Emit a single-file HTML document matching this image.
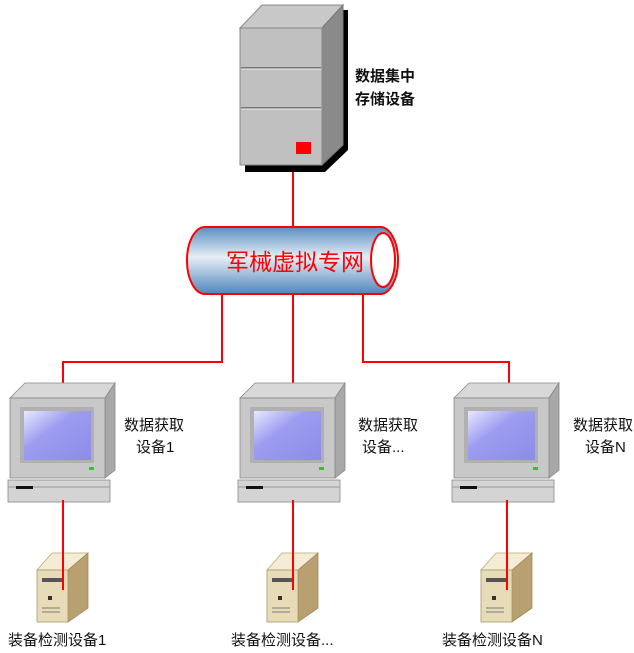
<!DOCTYPE html>
<html><head><meta charset="utf-8"><style>
html,body{margin:0;padding:0;background:#fff;}
svg{display:block;}
text{font-family:"Liberation Sans","Noto Sans CJK SC",sans-serif;}
</style></head><body>
<svg width="634" height="653" viewBox="0 0 634 653" xmlns="http://www.w3.org/2000/svg">
<defs>
<linearGradient id="pipe" x1="0" y1="0" x2="0" y2="1">
<stop offset="0" stop-color="#5a8fc0"/><stop offset="0.45" stop-color="#e6eef6"/><stop offset="1" stop-color="#4f86bb"/>
</linearGradient>
<linearGradient id="scr" x1="0" y1="0" x2="1" y2="1">
<stop offset="0" stop-color="#e8e8ff"/><stop offset="0.4" stop-color="#9c9cf0"/><stop offset="1" stop-color="#8c8ce8"/>
</linearGradient>
<g id="pc">
<polygon points="10,398 25,383 115,383 105,398" fill="#d8d8d8" stroke="#888" stroke-width="0.8"/>
<polygon points="105,398 115,383 115,470 105,478" fill="#a8a8a8" stroke="#888" stroke-width="0.8"/>
<rect x="10" y="398" width="95" height="80" fill="#c8c8c8" stroke="#888" stroke-width="0.8"/>
<rect x="20" y="407" width="74" height="56" fill="#b0b0b0"/>
<rect x="24" y="411" width="67" height="49" fill="url(#scr)"/>
<rect x="89" y="467" width="5" height="3" fill="#2c2"/>
<rect x="8" y="480" width="102" height="22" fill="#d4d4d4" stroke="#888" stroke-width="0.8"/>
<line x1="8" y1="487" x2="110" y2="487" stroke="#999"/>
<rect x="16" y="486" width="17" height="3" fill="#111"/>
</g>
<g id="tw">
<polygon points="37,570 52,553 88,553 68,570" fill="#f4ecd4" stroke="#b8a878" stroke-width="0.8"/>
<polygon points="68,570 88,553 88,608 68,622" fill="#b8a070" stroke="#a08a5a" stroke-width="0.8"/>
<rect x="37" y="570" width="31" height="52" fill="#e8dcb8" stroke="#a89868" stroke-width="0.8"/>
<rect x="42" y="578" width="20" height="4" fill="#555"/>
<rect x="48" y="596" width="4" height="4" fill="#333"/>
<line x1="42" y1="608" x2="60" y2="608" stroke="#777"/>
<line x1="42" y1="612" x2="60" y2="612" stroke="#777"/>
</g>
</defs>
<!-- server -->
<polygon points="245,172 325,172 348,150 348,10 340,10 340,145 245,165" fill="#000"/>
<polygon points="240,28 262,5 343,5 322,28" fill="#c8c8c8" stroke="#888"/>
<polygon points="322,28 343,5 343,145 322,165" fill="#8a8a8a" stroke="#777"/>
<rect x="240" y="28" width="82" height="137" fill="#c0c0c0" stroke="#888"/>
<line x1="241" y1="68" x2="321" y2="68" stroke="#777" stroke-width="2"/>
<line x1="241" y1="108" x2="321" y2="108" stroke="#777" stroke-width="2"/>
<line x1="241" y1="69" x2="321" y2="69" stroke="#eee" stroke-width="1"/>
<line x1="241" y1="109" x2="321" y2="109" stroke="#eee" stroke-width="1"/>
<rect x="296" y="142" width="15" height="12" fill="#f00"/>
<text x="355" y="81" font-size="15" font-weight="bold" fill="#111">数据集中</text>
<text x="355" y="104" font-size="15" font-weight="bold" fill="#111">存储设备</text>
<!-- lines -->
<g stroke="#f00" stroke-width="2" fill="none">
<line x1="293" y1="172" x2="293" y2="228"/>
<polyline points="222,293 222,362 63,362 63,385"/>
<line x1="293" y1="293" x2="293" y2="385"/>
<polyline points="363,293 363,362 509,362 509,385"/>
</g>
<!-- pipe -->
<rect x="187" y="227" width="211" height="67" rx="18" ry="33" fill="url(#pipe)" stroke="#f00" stroke-width="2"/>
<ellipse cx="383" cy="260" rx="12" ry="27" fill="#fff" stroke="#f00" stroke-width="2"/>
<text x="295" y="270" font-size="23" fill="#f00" text-anchor="middle" font-family="Liberation Serif,Noto Serif CJK SC,serif">军械虚拟专网</text>
<!-- pcs -->
<use href="#pc"/>
<use href="#pc" transform="translate(230,0)"/>
<use href="#pc" transform="translate(444,0)"/>
<use href="#tw"/>
<use href="#tw" transform="translate(230,0)"/>
<use href="#tw" transform="translate(444,0)"/>
<g stroke="#f00" stroke-width="2">
<line x1="63" y1="500" x2="63" y2="590"/>
<line x1="293" y1="500" x2="293" y2="590"/>
<line x1="507" y1="500" x2="507" y2="590"/>
</g>
<g font-size="15" fill="#111">
<text x="124" y="430">数据获取</text><text x="136" y="452">设备1</text>
<text x="358" y="430">数据获取</text><text x="362" y="452">设备...</text>
<text x="573" y="430">数据获取</text><text x="585" y="452">设备N</text>
<text x="8" y="645">装备检测设备1</text>
<text x="231" y="645">装备检测设备...</text>
<text x="442" y="645">装备检测设备N</text>
</g>
</svg>
</body></html>
